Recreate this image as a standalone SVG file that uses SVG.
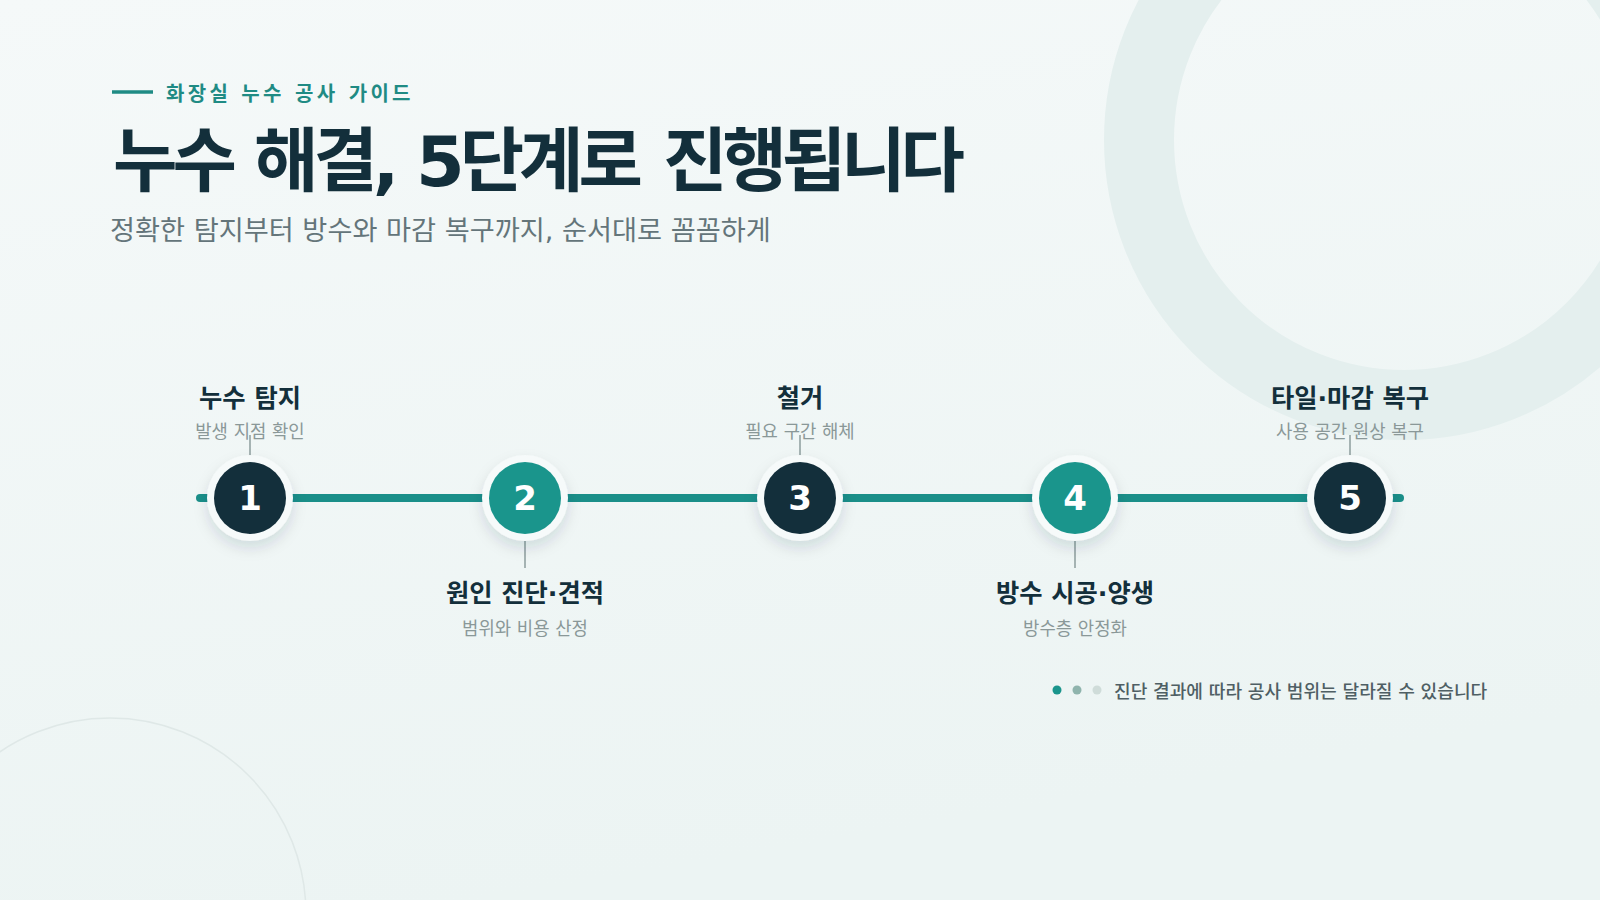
<svg xmlns="http://www.w3.org/2000/svg" width="1600" height="900" viewBox="0 0 1600 900">
  <defs>
    <linearGradient id="bg" x1="0" y1="0" x2="0.3" y2="1">
      <stop offset="0" stop-color="#f5f9f9"/>
      <stop offset="1" stop-color="#ecf4f3"/>
    </linearGradient>
    <filter id="shadow" x="-50%" y="-50%" width="200%" height="200%">
      <feDropShadow dx="0" dy="7" stdDeviation="7" flood-color="#1a3a44" flood-opacity="0.13"/>
    </filter>
    <style>
      .ko { font-family: "DejaVu Sans", "Noto Sans CJK KR", sans-serif; }
      .eyebrow { font-size: 20px; font-weight: 700; fill: #1f8b84; letter-spacing: 3.3px; }
      .title { font-size: 70px; font-weight: 700; fill: #132f3b; letter-spacing: -5px; }
      .lead { font-size: 27.2px; font-weight: 400; fill: #64757a; }
      .step-title { font-size: 25.3px; font-weight: 700; fill: #132f3b; text-anchor: middle; }
      .step-sub { font-size: 17.8px; font-weight: 400; fill: #8a9898; text-anchor: middle; }
      .num { font-family: "DejaVu Sans", sans-serif; font-size: 34px; font-weight: 700; fill: #ffffff; text-anchor: middle; }
      .ring { fill: #f6fafa; filter: url(#shadow); }
      .dark { fill: #132f3b; }
      .teal { fill: #1a958c; }
      .tick { stroke: #8c9c9c; stroke-width: 1.5; }
      .note { font-size: 18.1px; font-weight: 500; fill: #4f5f64; }
    </style>
  </defs>

  <rect x="0" y="0" width="1600" height="900" fill="url(#bg)"/>
  <circle cx="1404" cy="140" r="265" fill="none" stroke="#e4efee" stroke-width="70"/>
  <circle cx="110" cy="914" r="196" fill="none" stroke="#dfe8e7" stroke-width="1.5"/>

  <g id="header">
    <line x1="112" y1="92" x2="153" y2="92" stroke="#1f8b84" stroke-width="3.5"/>
    <text class="ko eyebrow" x="166" y="101">화장실 누수 공사 가이드</text>
    <text class="ko title" y="186"><tspan x="113">누수</tspan> <tspan x="254">해결,</tspan> <tspan x="416">5단계로</tspan> <tspan x="663">진행됩니다</tspan></text>
    <text class="ko lead" x="110" y="240">정확한 탐지부터 방수와 마감 복구까지, 순서대로 꼼꼼하게</text>
  </g>

  <g id="connectors">
    <line x1="200" y1="498" x2="1400" y2="498" stroke="#1a8f89" stroke-width="8" stroke-linecap="round"/>
    <line class="tick" x1="250" y1="435" x2="250" y2="456"/>
    <line class="tick" x1="525" y1="541" x2="525" y2="568"/>
    <line class="tick" x1="800" y1="435" x2="800" y2="456"/>
    <line class="tick" x1="1075" y1="541" x2="1075" y2="568"/>
    <line class="tick" x1="1350" y1="435" x2="1350" y2="456"/>
  </g>

  <g id="step1">
    <circle class="ring" cx="250" cy="498" r="43"/>
    <circle class="dark" cx="250" cy="498" r="36"/>
    <text class="num" x="250" y="510">1</text>
    <text class="ko step-title" x="250" y="407">누수 탐지</text>
    <text class="ko step-sub" x="250" y="438">발생 지점 확인</text>
  </g>
  <g id="step2">
    <circle class="ring" cx="525" cy="498" r="43"/>
    <circle class="teal" cx="525" cy="498" r="36"/>
    <text class="num" x="525" y="510">2</text>
    <text class="ko step-title" x="525" y="602">원인 진단·견적</text>
    <text class="ko step-sub" x="525" y="635">범위와 비용 산정</text>
  </g>
  <g id="step3">
    <circle class="ring" cx="800" cy="498" r="43"/>
    <circle class="dark" cx="800" cy="498" r="36"/>
    <text class="num" x="800" y="510">3</text>
    <text class="ko step-title" x="800" y="407">철거</text>
    <text class="ko step-sub" x="800" y="438">필요 구간 해체</text>
  </g>
  <g id="step4">
    <circle class="ring" cx="1075" cy="498" r="43"/>
    <circle class="teal" cx="1075" cy="498" r="36"/>
    <text class="num" x="1075" y="510">4</text>
    <text class="ko step-title" x="1075" y="602">방수 시공·양생</text>
    <text class="ko step-sub" x="1075" y="635">방수층 안정화</text>
  </g>
  <g id="step5">
    <circle class="ring" cx="1350" cy="498" r="43"/>
    <circle class="dark" cx="1350" cy="498" r="36"/>
    <text class="num" x="1350" y="510">5</text>
    <text class="ko step-title" x="1350" y="407">타일·마감 복구</text>
    <text class="ko step-sub" x="1350" y="438">사용 공간 원상 복구</text>
  </g>

  <g id="note">
    <circle cx="1057" cy="690" r="4.5" fill="#1a958c"/>
    <circle cx="1077" cy="690" r="4.5" fill="#8fb4ad"/>
    <circle cx="1097" cy="690" r="4.5" fill="#cfdcd9"/>
    <text class="ko note" x="1114" y="698">진단 결과에 따라 공사 범위는 달라질 수 있습니다</text>
  </g>
</svg>
